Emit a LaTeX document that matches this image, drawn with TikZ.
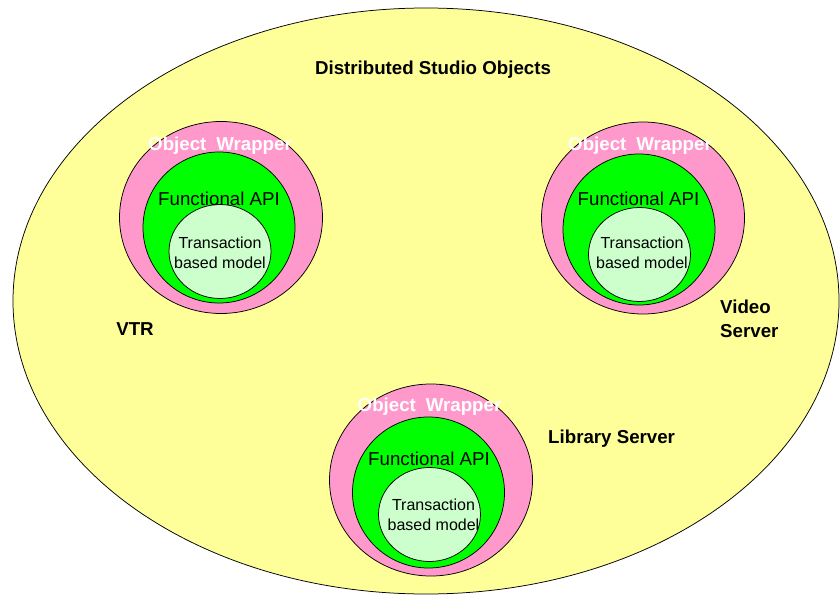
\documentclass[tikz,border=0pt]{standalone}
\usepackage{fontspec}
\setmainfont{Liberation Sans}
\usepackage{xcolor}
\usepackage{tikz}
\usetikzlibrary{shapes.geometric, positioning}
\definecolor{studioyellow}{RGB}{255,255,153}
\definecolor{wrapperpink}{RGB}{255,153,204}
\definecolor{apigreen}{RGB}{0,255,0}
\definecolor{modelgreen}{RGB}{204,255,204}
\tikzstyle{ring} = [draw, ellipse, inner sep=0pt, line width=0.75pt]
\tikzstyle{wrapper} = [ring, fill=wrapperpink, minimum width=203pt, minimum height=192pt]
\tikzstyle{api} = [ring, fill=apigreen, minimum width=152pt, minimum height=151pt]
\tikzstyle{model} = [ring, fill=modelgreen, minimum width=102pt, minimum height=94pt]
\tikzstyle{devname} = [font=\fontsize{18.7}{24}\selectfont\bfseries, inner sep=0pt, anchor=base]
\tikzstyle{wraptext} = [font=\fontsize{18.7}{22}\selectfont\bfseries, text=white, inner sep=0pt, anchor=base]
\tikzstyle{apitext} = [font=\fontsize{18.7}{22}\selectfont, inner sep=0pt, anchor=base]
\tikzstyle{modeltext} = [font=\fontsize{16}{20}\selectfont, align=center, inner sep=0pt, anchor=base]

\begin{document}
\begin{tikzpicture}[x=1pt, y=-1pt]
    \useasboundingbox (0,0) rectangle (840,596);

    % Outer ellipse
    \node[draw, ellipse, fill=studioyellow, line width=0.75pt, inner sep=0pt,
          minimum width=826pt, minimum height=586pt] (studio) at (426,301) {};
    \node[devname, anchor=base] (title) at (433,75) {Distributed Studio Objects};

    % VTR
    \node[wrapper] (vtrWrap) at (221,217.5) {};
    \node[api] (vtrApi) at (219,227.5) {};
    \node[model] (vtrModel) at (220,251.5) {};
    \node[wraptext] (vtrWrapText) at (220,150.5) {Object\hspace{0.25em} Wrapper};
    \node[apitext] (vtrApiText) at (219,205) {Functional API};
    \node[modeltext] (vtrModelText) at (220,268.3) {Transaction\\based model};
    \node[devname] (vtr) at (135,335) {VTR};

    % Video server
    \node[wrapper] (videoWrap) at (643,218) {};
    \node[api] (videoApi) at (639,229.5) {};
    \node[model] (videoModel) at (639.5,254.5) {};
    \node[wraptext] (videoWrapText) at (640,150.7) {Object\hspace{0.25em} Wrapper};
    \node[apitext] (videoApiText) at (638.5,205) {Functional API};
    \node[modeltext] (videoModelText) at (642,268.3) {Transaction\\based model};
    \node[devname, align=left, anchor=base west] (video) at (720,337) {Video\\Server};

    % Library server
    \node[wrapper] (libWrap) at (431,480) {};
    \node[api] (libApi) at (428.5,492.5) {};
    \node[model] (libModel) at (429.5,514.5) {};
    \node[wraptext] (libWrapText) at (429.5,411.7) {Object\hspace{0.25em} Wrapper};
    \node[apitext] (libApiText) at (429,465) {Functional API};
    \node[modeltext] (libModelText) at (433.5,530) {Transaction\\based model};
    \node[devname, anchor=base west] (library) at (548,443) {Library Server};
\end{tikzpicture}
\end{document}
